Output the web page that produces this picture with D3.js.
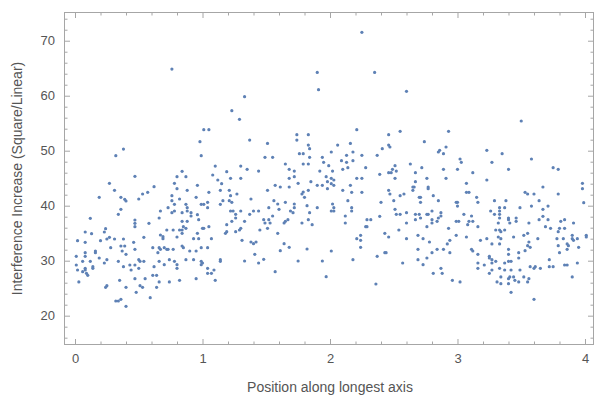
<!DOCTYPE html>
<html>
<head>
<meta charset="utf-8">
<script src="https://cdn.jsdelivr.net/npm/d3@7"></script>
<style>
  body { margin: 0; background: #fff; }
  svg { display: block; }
  text { font-family: "Liberation Sans", Arial, sans-serif; }
</style>
</head>
<body>
<svg id="chart" width="595" height="402"></svg>
<script>
// tick labels
var xTicks = [0, 1, 2, 3, 4];
var yTicks = [20, 30, 40, 50, 60, 70];

var xLabel = 'Position along longest axis';
var yLabel = 'Interference Increase (Square/Linear)';

// [position, increase]
var points = [
  [0.38,50.3],[0.32,49.1],
  [0.47,45.34],[0.27,44.07],[0.31,42.79],[0.19,41.52],[0.36,41.52],[0.39,41.16],[0.40,40.85],[0.53,42.13],[0.57,42.43],[0.62,43.46],
  [0.50,41.22],[0.36,39.34],[0.34,38.43],[0.12,37.70],[0.47,37.40],[0.58,36.79],[0.47,36.79],[0.47,36.19],[0.08,35.22],[0.13,34.91],
  [0.23,35.22],[0.24,35.82],[0.02,33.64],[0.08,33.34],[0.20,33.64],[0.25,33.94],[0.27,34.25],[0.31,33.94],[0.38,33.94],[0.46,33.34],
  [0.54,34.25],[0.36,32.67],[0.39,32.67],[0.28,32.37],[0.47,32.07],[0.61,32.37],[0.37,31.76],[0.16,31.76],[0.16,31.46],[0.08,31.46],
  [0.40,31.16],[0.01,30.79],[0.08,30.79],[0.19,30.49],[0.25,30.19],[0.50,30.19],[0.51,29.88],[0.12,29.88],[0.06,29.88],[0.34,29.88],
  [0.54,29.88],[0.23,29.58],[0.01,29.22],[0.43,29.22],[0.47,29.22],[0.14,28.91],[0.14,28.61],[0.08,28.61],[0.08,28.31],[0.02,28.31],
  [0.06,28.01],[0.09,27.70],[0.10,27.34],[0.38,28.91],[0.50,28.61],[0.44,28.31],[0.62,28.91],[0.61,27.34],[0.55,26.73],[0.47,26.73],
  [0.35,26.43],[0.03,26.13],[0.25,25.46],[0.24,25.16],[0.40,25.16],[0.51,25.46],[0.53,25.16],[0.48,24.25],[0.59,23.28],[0.36,22.97],
  [0.32,22.67],[0.34,22.67],[0.40,21.70],
  [0.76,64.85],[1.23,57.27],[1.29,55.70],[1.01,53.82],[1.05,53.82],[0.98,51.64],[0.99,49.09],[1.10,47.21],[1.30,47.21],
  [0.84,46.25],[0.80,45.28],[0.87,45.28],[0.78,44.07],[0.80,43.10],[0.96,43.70],[0.88,42.79],[0.76,41.82],[0.82,41.22],[0.76,40.91],
  [0.78,40.25],[0.73,39.64],[0.87,40.25],[0.88,39.64],[0.88,39.04],[0.91,38.73],[0.91,38.13],[0.95,41.52],[0.99,40.25],[1.01,40.25],
  [1.04,40.61],[1.04,39.64],[1.05,42.43],[1.08,45.58],[1.12,44.67],[1.15,44.01],[1.19,46.19],[1.22,44.98],[1.30,44.98],[1.14,42.79],
  [1.21,42.79],[1.22,41.82],[1.27,42.13],[1.16,40.91],[1.21,40.91],[1.23,40.61],[1.14,40.25],[1.30,39.04],[1.22,39.04],[1.24,39.04],
  [1.26,38.43],[1.26,37.76],[1.23,37.16],[1.19,36.55],[1.30,35.88],[1.29,35.58],[1.26,35.28],[1.19,35.28],[1.18,34.97],[1.31,33.70],
  [0.67,39.04],[0.76,38.73],[0.78,39.04],[0.84,38.73],[0.66,37.76],[0.84,37.16],[0.88,37.16],[0.85,36.19],[0.87,35.88],[0.84,35.58],
  [0.84,34.97],[0.97,37.46],[0.96,38.37],[1.01,35.88],[1.00,35.88],[1.05,36.19],[0.96,34.97],[0.93,34.01],[0.97,34.01],[1.07,34.01],
  [0.72,35.58],[0.77,35.58],[0.82,35.58],[0.67,34.67],[0.69,34.37],[0.69,34.01],[0.80,34.31],[0.66,32.37],[0.70,32.37],[0.67,32.07],
  [0.72,32.07],[0.73,32.07],[0.77,32.07],[0.65,31.46],[0.84,32.67],[0.85,32.37],[0.90,31.76],[0.95,31.76],[0.99,32.37],[1.04,32.37],
  [0.66,29.88],[0.70,29.28],[0.74,30.19],[0.78,29.88],[0.80,29.28],[0.80,28.61],[0.87,30.19],[0.93,30.19],[0.99,29.88],[1.00,29.58],
  [0.99,29.28],[1.14,30.19],[1.14,29.88],[1.04,28.61],[1.09,28.31],[1.04,27.70],[1.07,27.70],[0.64,27.34],[0.66,26.13],[0.74,26.13],
  [0.82,26.43],[0.95,26.73],[1.10,26.43],[0.64,25.16],
  [1.90,64.24],[1.91,61.09],[1.33,59.82],[1.74,52.91],[1.83,52.91],[1.37,51.94],[1.74,51.94],[1.51,51.33],[1.83,51.03],[1.84,50.36],
  [1.76,49.46],[1.79,49.46],[1.49,48.79],[1.55,48.79],[1.84,48.79],[1.94,48.79],[1.95,47.88],[1.65,47.58],[1.79,47.58],[1.83,47.58],
  [1.99,47.27],[1.35,46.61],[1.68,46.61],[1.44,46.30],[1.72,46.30],[1.92,46.30],
  [1.97,45.28],[1.98,44.37],[1.85,44.37],[1.75,44.07],[1.72,45.28],[1.68,44.98],[1.57,43.70],[1.61,43.40],[1.68,43.40],[1.51,42.79],
  [1.90,43.70],[1.94,43.70],[1.98,43.10],[1.83,42.79],[1.79,42.49],[1.78,42.13],[1.80,41.52],[1.38,41.22],[1.56,40.91],[1.59,40.31],
  [1.65,40.61],[1.72,40.31],[1.72,39.64],[1.60,39.34],[1.52,39.64],[1.82,40.01],[1.90,39.64],[1.37,38.43],[1.40,39.04],[1.44,39.04],
  [1.55,38.13],[1.69,39.04],[1.71,38.73],[1.84,38.73],[1.33,37.16],[1.48,37.46],[1.52,37.46],[1.49,36.85],[1.53,36.85],[1.67,37.46],
  [1.65,37.16],[1.64,36.85],[1.83,37.46],[1.78,36.85],[1.86,36.55],[1.51,35.88],[1.45,35.58],[1.59,34.97],[1.38,33.40],[1.40,33.10],
  [1.42,33.40],[1.64,33.10],[1.68,32.43],[1.61,31.82],[1.82,32.13],[1.41,31.16],[1.33,29.94],[1.44,29.58],[1.48,30.25],[1.75,29.94],
  [1.94,29.94],[1.57,28.01],[1.97,27.10],
  [2.25,71.52],[2.35,64.24],[2.60,60.79],[2.21,53.82],[2.46,52.91],[2.55,53.52],[2.06,51.03],[2.16,51.33],[2.46,51.03],[2.47,50.67],
  [2.41,50.36],[2.01,49.76],[2.18,49.76],[2.13,49.15],[2.25,49.15],[2.37,49.15],[2.09,48.18],[2.13,47.88],[2.18,48.18],[2.51,47.27],
  [2.63,47.58],[2.02,46.30],[2.10,46.61],[2.14,46.91],[2.28,46.91],[2.49,46.61],[2.52,46.30],[2.67,46.00],[2.46,46.00],[2.48,46.00],
  [2.39,45.70],
  [2.01,44.98],[2.03,44.67],[2.01,44.01],[2.03,43.70],[2.21,44.98],[2.25,44.98],[2.10,42.79],[2.16,43.70],[2.17,42.43],[2.25,42.43],
  [2.14,40.91],[2.02,40.31],[2.03,39.64],[2.01,39.04],[2.03,39.04],[2.17,39.64],[2.17,39.04],[2.12,38.13],[2.12,36.85],[2.29,37.46],
  [2.32,37.46],[2.28,36.19],[2.29,36.19],[2.51,44.98],[2.46,42.79],[2.47,42.13],[2.58,42.13],[2.55,41.82],[2.50,40.91],[2.40,40.61],
  [2.67,44.37],[2.66,43.40],[2.65,43.40],[2.65,42.79],[2.51,39.34],[2.52,38.43],[2.55,38.43],[2.60,38.73],[2.67,38.43],[2.67,37.46],
  [2.60,36.85],[2.39,38.07],[2.54,35.58],[2.43,34.97],[2.46,34.31],[2.60,34.01],[2.69,34.61],[2.21,34.01],[2.24,34.61],[2.24,33.70],
  [2.24,32.43],[2.01,31.76],[2.43,31.46],[2.44,31.46],[2.37,30.79],[2.57,29.58],[2.18,30.19],[2.69,32.07],[2.69,30.19],[2.36,25.76],
  [2.93,53.52],[2.74,51.64],[2.91,50.67],[2.86,50.06],[2.85,49.76],[2.89,49.46],[3.23,50.06],[3.35,49.46],[3.02,48.49],[3.03,47.88],
  [3.27,47.88],[2.72,46.91],[2.89,46.61],[3.00,46.61],[3.12,46.00],
  [2.76,44.98],[2.91,44.98],[2.77,43.40],[2.77,43.10],[2.70,41.52],[2.71,41.52],[2.71,40.61],[2.81,41.82],[2.85,40.91],[2.99,40.61],
  [3.00,40.61],[3.00,39.94],[3.07,44.07],[3.07,42.43],[3.09,42.43],[3.23,44.67],[3.15,41.52],[3.16,40.61],[2.70,38.43],[2.76,38.43],
  [2.77,38.43],[2.71,37.76],[2.80,39.04],[2.80,37.46],[2.80,36.85],[2.84,37.16],[2.85,37.76],[2.87,38.73],[2.87,38.13],[2.76,36.19],
  [2.93,35.88],[2.99,37.16],[3.01,37.16],[3.05,38.43],[3.11,38.13],[3.08,36.55],[3.09,37.16],[3.12,37.16],[3.16,36.19],[2.99,34.61],
  [3.07,34.31],[2.94,33.70],[2.92,33.04],[2.78,33.40],[2.73,34.01],[3.29,40.91],[3.33,39.64],[3.37,39.64],[3.26,39.04],[3.29,38.43],
  [3.33,39.04],[3.33,38.43],[3.33,37.76],[3.32,36.85],[3.30,35.58],[3.33,35.58],[3.34,35.28],[3.32,34.31],[3.34,34.01],[3.37,35.58],
  [3.23,34.01],[3.18,33.70],[3.27,33.04],[3.33,33.04],[3.11,32.07],[3.12,31.76],[2.94,31.46],[2.89,32.07],[2.84,32.07],[2.80,31.46],
  [3.16,31.16],[3.25,30.79],[3.25,30.49],[3.27,30.19],[3.30,29.88],[3.27,29.58],[3.37,29.58],[3.16,29.58],[3.16,28.61],[3.21,29.22],
  [2.76,30.49],[2.73,29.28],[2.87,28.61],[2.81,27.70],[2.88,27.70],[3.27,28.31],[3.33,28.61],[3.37,28.31],[3.25,27.70],[3.34,27.04],
  [3.31,26.13],[3.34,25.82],[2.96,26.43],[3.02,26.13],
  [3.50,55.40],[3.58,48.49],[3.40,46.61],[3.75,46.91],[3.79,46.61],
  [3.98,44.07],[3.98,43.10],[3.99,40.55],[3.67,43.40],[3.53,42.43],[3.55,42.13],[3.60,42.13],[3.79,42.13],[3.38,40.91],[3.49,39.64],
  [3.64,40.91],[3.58,39.94],[3.71,39.94],[3.67,39.34],[3.67,38.07],[3.64,37.46],[3.71,37.46],[3.40,37.76],[3.40,37.46],[3.46,37.76],
  [3.46,37.16],[3.41,36.85],[3.56,36.85],[3.69,36.19],[3.73,35.88],[3.79,35.28],[3.81,37.16],[3.84,37.46],[3.91,36.85],[3.80,35.88],
  [3.84,35.88],[3.44,34.31],[3.52,34.61],[3.55,34.97],[3.63,34.01],[3.78,34.01],[3.83,34.01],[3.90,34.61],[3.90,34.01],[3.91,33.70],
  [3.94,34.01],[4.01,34.61],[4.01,34.31],[3.56,33.40],[3.55,32.73],[3.57,32.43],[3.53,31.82],[3.79,32.73],[3.86,33.04],[3.87,32.73],
  [3.86,32.07],[3.95,32.43],[3.80,31.46],[3.40,32.07],[3.40,31.16],[3.48,31.46],[3.48,30.49],[3.40,29.88],[3.42,29.88],[3.72,30.19],
  [3.94,29.58],[3.84,29.22],[3.86,29.22],[3.57,28.91],[3.60,28.61],[3.61,28.91],[3.65,28.61],[3.72,28.91],[3.75,28.91],[3.42,28.31],
  [3.49,28.31],[3.40,26.73],[3.41,27.04],[3.44,27.04],[3.52,27.04],[3.56,26.73],[3.45,26.43],[3.48,26.13],[3.55,26.13],[3.40,25.82],
  [3.42,24.25],[3.90,27.04],[3.60,22.97]
];

var width = 595, height = 402;
var frame = { left: 64, right: 594, top: 12, bottom: 345 };

var svg = d3.select('#chart');

// scales: 1 unit = 127.5 px in x, 10 units = 55 px in y
var x = d3.scaleLinear()
  .domain([-0.0863, 4.0706])
  .range([frame.left, frame.right]);

var y = d3.scaleLinear()
  .domain([14.67, 75.22])
  .range([frame.bottom, frame.top]);

var frameColor = '#a6a6a6';
var labelColor = '#555555';

var xMinor = d3.range(0, 4.01, 0.2).filter(function (v) { return Math.abs(v - Math.round(v)) > 1e-6; });
var yMinor = d3.range(16, 75, 2).filter(function (v) { return v % 10 !== 0; });

function drawAxis(gen, scale, majors, minors, translate, showLabels) {
  var g = svg.append('g').attr('transform', translate);
  g.call(gen(scale).tickValues(majors).tickSize(-6).tickPadding(9)
    .tickFormat(showLabels ? d3.format('d') : ''));
  var m = svg.append('g').attr('transform', translate);
  m.call(gen(scale).tickValues(minors).tickSize(-3.5).tickFormat(''));
  [g, m].forEach(function (s) {
    s.select('.domain').remove();
    s.selectAll('line').attr('stroke', frameColor).attr('stroke-width', 1);
    s.selectAll('text').attr('fill', labelColor).style('font-size', '13px');
  });
}

drawAxis(d3.axisBottom, x, xTicks, xMinor, 'translate(0,' + frame.bottom + ')', true);
drawAxis(d3.axisTop, x, xTicks, xMinor, 'translate(0,' + frame.top + ')', false);
drawAxis(d3.axisLeft, y, yTicks, yMinor, 'translate(' + frame.left + ',0)', true);
drawAxis(d3.axisRight, y, yTicks, yMinor, 'translate(' + frame.right + ',0)', false);

svg.append('rect')
  .attr('x', frame.left + 0.5)
  .attr('y', frame.top + 0.5)
  .attr('width', frame.right - frame.left - 1)
  .attr('height', frame.bottom - frame.top - 1)
  .attr('fill', 'none')
  .attr('stroke', frameColor)
  .attr('stroke-width', 1);

svg.append('g')
  .selectAll('circle')
  .data(points)
  .join('circle')
  .attr('cx', function (d) { return x(d[0]); })
  .attr('cy', function (d) { return y(d[1]); })
  .attr('r', 1.6)
  .attr('fill', '#5e81b5');

svg.append('text')
  .attr('x', (x(0) + x(4)) / 2)
  .attr('y', 392)
  .attr('text-anchor', 'middle')
  .attr('fill', labelColor)
  .style('font-size', '14px')
  .text(xLabel);

svg.append('text')
  .attr('transform', 'translate(22,' + ((frame.top + frame.bottom) / 2) + ') rotate(-90)')
  .attr('text-anchor', 'middle')
  .attr('fill', labelColor)
  .style('font-size', '14px')
  .text(yLabel);
</script>
</body>
</html>
